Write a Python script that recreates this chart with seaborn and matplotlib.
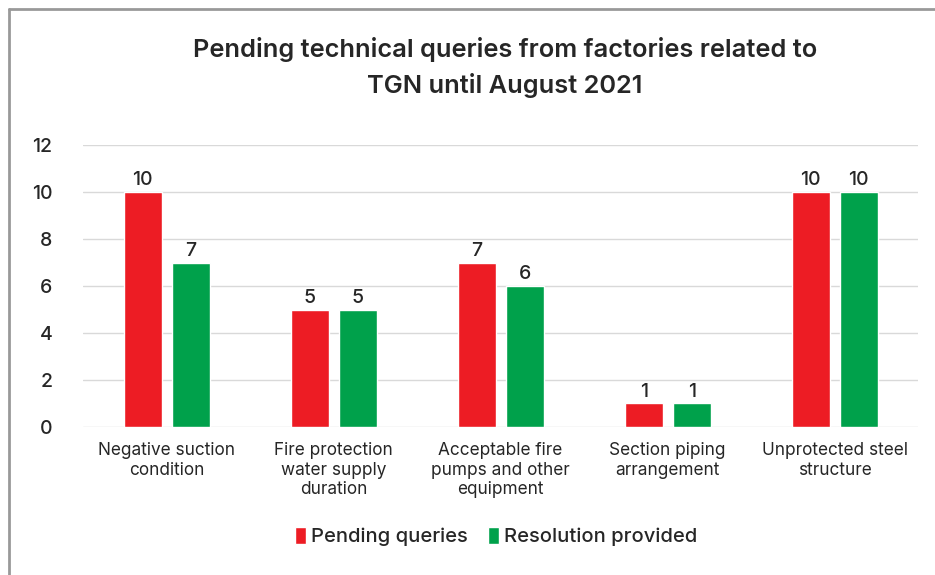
import matplotlib
matplotlib.use("Agg")
import matplotlib.pyplot as plt
import seaborn as sns
import pandas as pd
from matplotlib.lines import Line2D

categories = [
    "Negative suction\ncondition",
    "Fire protection\nwater supply\nduration",
    "Acceptable fire\npumps and other\nequipment",
    "Section piping\narrangement",
    "Unprotected steel\nstructure",
]
pending = [10, 5, 7, 1, 10]
resolved = [7, 5, 6, 1, 10]
series_names = ["Pending queries", "Resolution provided"]
colors = ["#ED1C24", "#00A14B"]

df = pd.DataFrame({
    "category": categories * 2,
    "value": pending + resolved,
    "series": [series_names[0]] * 5 + [series_names[1]] * 5,
})

sns.set_theme(style="white")
plt.rcParams["font.family"] = ["Inter", "DejaVu Sans"]

fig = plt.figure(figsize=(9.35, 5.75), dpi=100)
ax = fig.add_axes([0.0888, 0.2574, 0.8932, 0.4904])

sns.barplot(data=df, x="category", y="value", hue="series",
            palette=colors, width=0.575, gap=0.21, ax=ax,
            saturation=1, legend=True)

ax.set_ylim(0, 12)
ax.set_yticks(range(0, 13, 2))
ax.yaxis.grid(True, color="#d9d9d9", linewidth=1)
ax.set_axisbelow(True)
for s in ax.spines.values():
    s.set_visible(False)
ax.set_xlabel("")
ax.set_ylabel("")
ax.tick_params(axis="y", length=0, pad=22, labelsize=14, labelcolor="#262626")
ax.tick_params(axis="x", length=0, pad=11, labelsize=12.4, labelcolor="#262626")
for lab in ax.get_yticklabels():
    lab.set_fontweight("medium")
for lab in ax.get_xticklabels():
    lab.set_linespacing(1.2)

for cont in ax.containers:
    ax.bar_label(cont, fmt="%d", padding=2, fontsize=14, color="#262626",
                 fontweight="medium")

ax.legend(loc="upper center", bbox_to_anchor=(0.4945, -0.29), ncol=2,
          frameon=False, handlelength=0.55, handleheight=0.9,
          handletextpad=0.25, columnspacing=1.0, labelcolor="#262626",
          prop={"size": 14.5, "weight": "medium"})

fig.suptitle("Pending technical queries from factories related to\nTGN until August 2021",
             x=0.54, y=0.935, fontsize=18.3, fontweight="semibold", color="#262626",
             linespacing=1.55)

# chart frame border (top and left visible)
fig.add_artist(Line2D([0.0101, 0.0101], [0.0, 0.985], transform=fig.transFigure,
                      color="#999999", linewidth=2))
fig.add_artist(Line2D([0.0101, 1.0], [0.985, 0.985], transform=fig.transFigure,
                      color="#999999", linewidth=2))

fig.savefig("out.png", dpi=100)
